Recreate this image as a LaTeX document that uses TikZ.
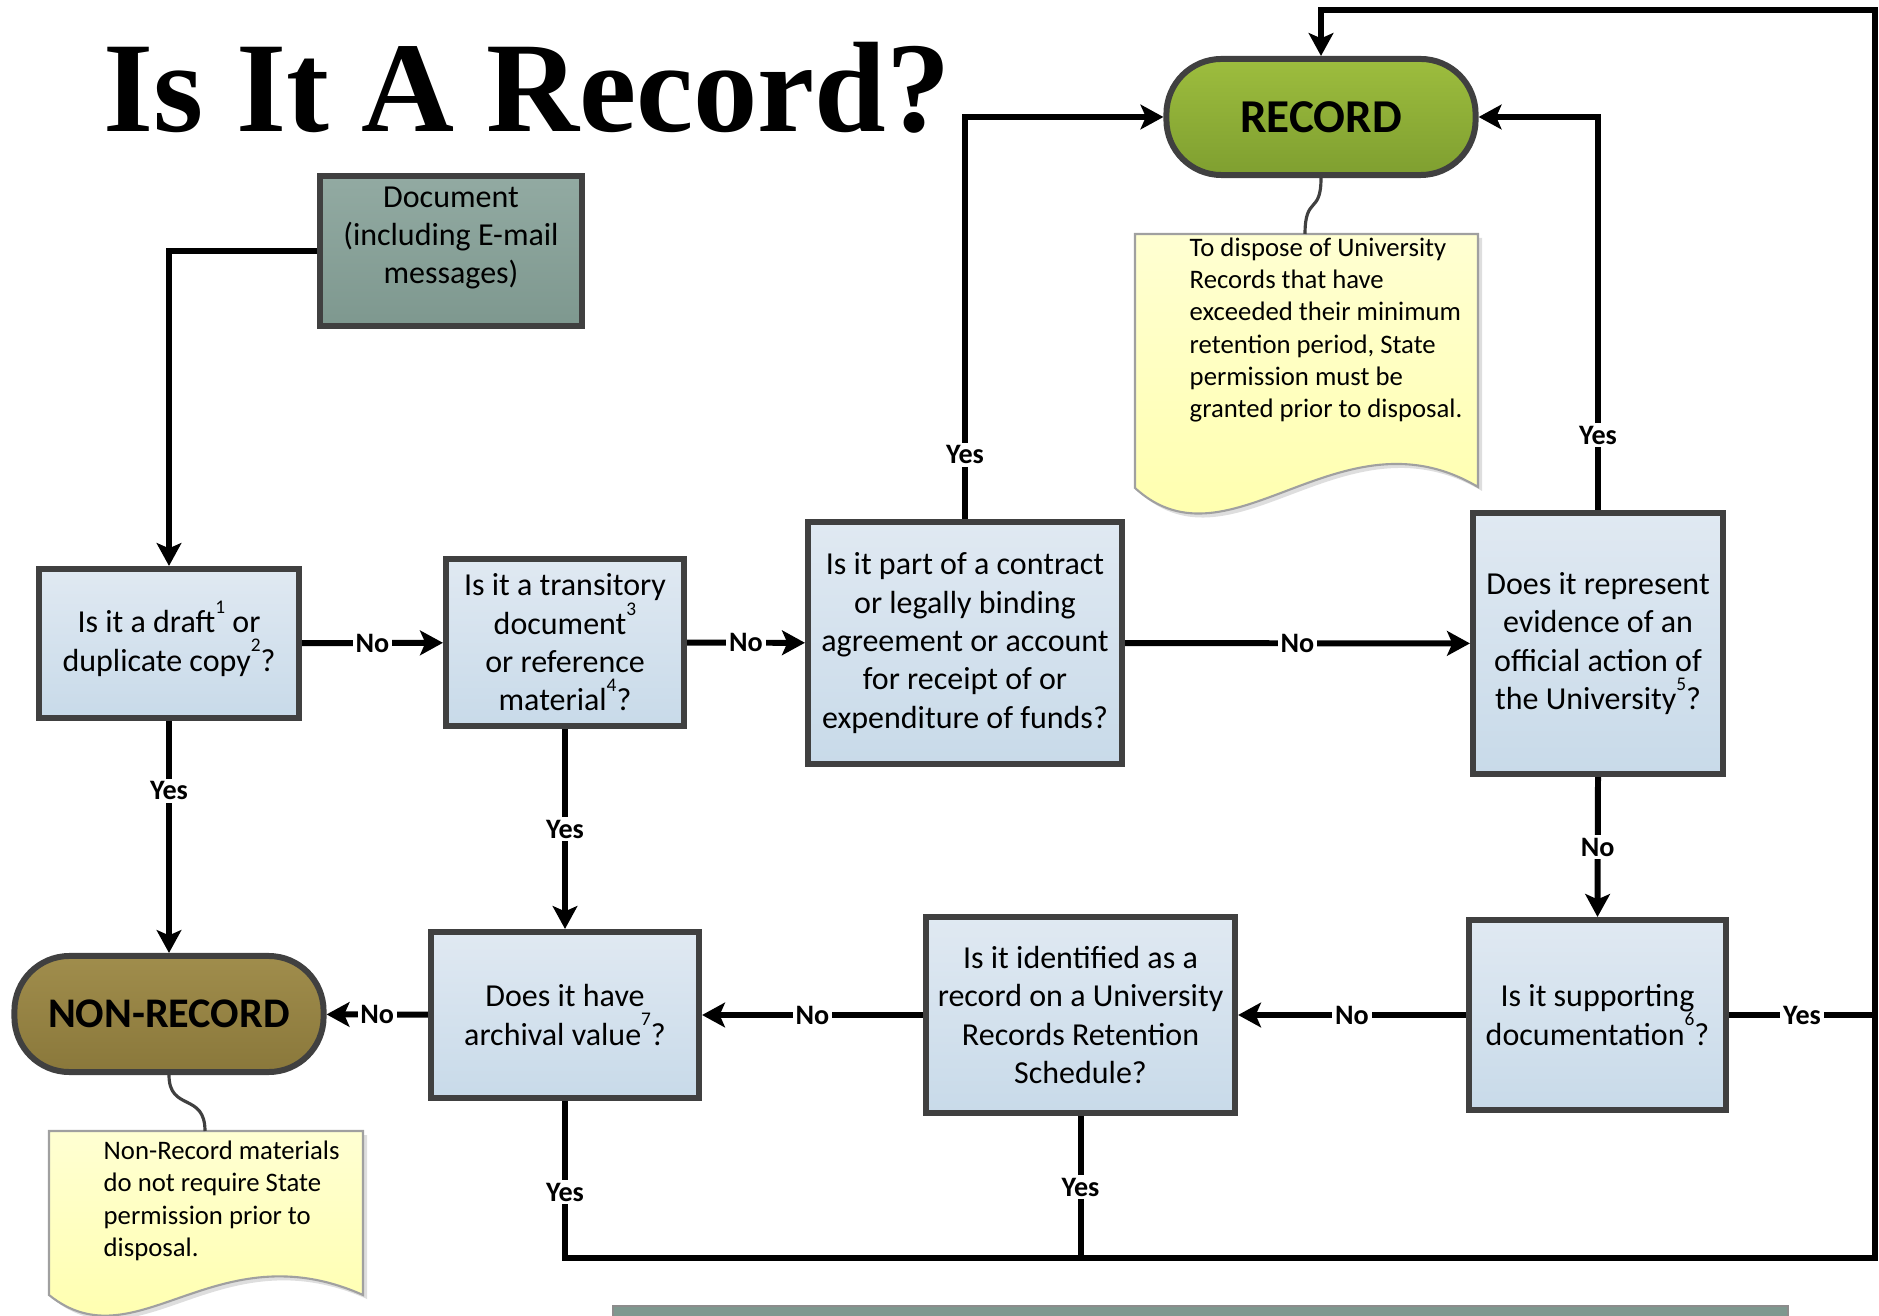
\documentclass[tikz,border=0pt]{standalone}
\usepackage{fontspec}
\setmainfont{Carlito}
\newfontfamily\titlefont{Liberation Serif}
\usetikzlibrary{arrows.meta,positioning}

\definecolor{boxline}{HTML}{404040}
\definecolor{qtop}{HTML}{E0E9F2}
\definecolor{qbot}{HTML}{C8DAE9}
\definecolor{doctop}{HTML}{92AAA2}
\definecolor{docbot}{HTML}{7E988F}
\definecolor{rectop}{HTML}{9DBD3E}
\definecolor{recbot}{HTML}{7F9F30}
\definecolor{nontop}{HTML}{A08D4C}
\definecolor{nonbot}{HTML}{8A783B}
\definecolor{notetop}{HTML}{FFFFD2}
\definecolor{notebot}{HTML}{FFFFA8}
\definecolor{notegray}{HTML}{A0A0A0}

\newcommand\fnum[1]{\smash{\raisebox{0.6em}{\fontsize{5.5}{6}\selectfont #1}}}

\tikzset{
  conn/.style={line width=1.7pt, draw=black},
  arr/.style={-{Stealth[length=6.5pt,width=7pt,inset=1.5pt]}},
  qbox/.style={draw=boxline, line width=1.7pt, top color=qtop, bottom color=qbot,
    align=center, inner sep=0pt, font=\fontsize{9.1}{10.9}\selectfont},
  termbox/.style={draw=boxline, line width=1.7pt, rounded corners=0.55cm, inner sep=0pt,
    minimum width=3.09cm, minimum height=1.16cm, font=\bfseries},
  lbl/.style={fill=white, inner sep=0.8pt, font=\fontsize{8}{9.6}\selectfont\bfseries},
  notetxt/.style={align=left, inner sep=0pt, anchor=west, font=\fontsize{7.6}{9.2}\selectfont},
  papernote/.style={draw=notegray, line width=0.6pt, top color=notetop, bottom color=notebot},
  notedrop/.style={fill=black!13, draw=none},
  tether/.style={draw=boxline, line width=0.9pt}
}

\begin{document}
\begin{tikzpicture}[x=0.01cm,y=-0.01cm]
\useasboundingbox (0,0) rectangle (1879,1316);

\node[anchor=base west, inner sep=0pt, font=\titlefont\bfseries\fontsize{36.6}{40}\selectfont] (title) at (103,132) {Is It A Record?};

\node[draw=boxline, line width=1.7pt, top color=doctop, bottom color=docbot, inner sep=0pt,
  minimum width=2.62cm, minimum height=1.49cm] (doc) at (451,251) {};
\node[align=center, inner sep=0pt, font=\fontsize{9.1}{10.9}\selectfont] (doctext) at (451,238) {Document\\(including E-mail\\messages)};

\node[termbox, top color=rectop, bottom color=recbot, font=\fontsize{13.4}{16}\selectfont\bfseries] (rec) at (1321,117) {RECORD};
\node[termbox, top color=nontop, bottom color=nonbot, font=\fontsize{12}{14}\selectfont\bfseries] (nonrec) at (169,1014) {NON-RECORD};

\node[qbox, minimum width=2.6cm, minimum height=1.49cm] (draft) at (169,643.5) {Is it a draft\fnum{1} or\\duplicate copy\fnum{2}?};
\node[qbox, minimum width=2.38cm, minimum height=1.67cm] (trans) at (565,642.5) {Is it a transitory\\document\fnum{3}\\or reference\\material\fnum{4}?};
\node[qbox, minimum width=3.14cm, minimum height=2.42cm] (contract) at (965,643) {Is it part of a contract\\or legally binding\\agreement or account\\for receipt of or\\expenditure of funds?};
\node[qbox, minimum width=2.5cm, minimum height=2.61cm] (evidence) at (1598,643.5) {Does it represent\\evidence of an\\official action of\\the University\fnum{5}?};
\node[qbox, minimum width=2.68cm, minimum height=1.66cm] (arch) at (565,1015) {Does it have\\archival value\fnum{7}?};
\node[qbox, minimum width=3.09cm, minimum height=1.96cm] (ident) at (1080.5,1015) {Is it identified as a\\record on a University\\Records Retention\\Schedule?};
\node[qbox, minimum width=2.57cm, minimum height=1.9cm] (supp) at (1597.5,1015) {Is it supporting\\documentation\fnum{6}?};

% notes
\fill[notedrop] (1139,238) -- (1482,238) -- (1482,491) .. controls (1344,409) and (1234,579) .. (1139,492) -- cycle;
\draw[papernote] (1135,234) -- (1478,234) -- (1478,487) .. controls (1340,405) and (1230,575) .. (1135,488) -- cycle;
\node[notetxt] (recnote) at (1189,330) {To dispose of University\\Records that have\\exceeded their minimum\\retention period, State\\permission must be\\granted prior to disposal.};
\coordinate (recpin) at (1305,234);
\draw[tether] (rec.south) .. controls (1321,215) and (1305,195) .. (recpin);

\fill[notedrop] (53,1135) -- (367,1135) -- (367,1299) .. controls (219,1233) and (140,1369) .. (53,1299) -- cycle;
\draw[papernote] (49,1131) -- (363,1131) -- (363,1295) .. controls (215,1229) and (136,1365) .. (49,1295) -- cycle;
\node[notetxt] (nonnote) at (103,1201) {Non-Record materials\\do not require State\\permission prior to\\disposal.};
\coordinate (nonpin) at (205,1131);
\draw[tether] (nonrec.south) .. controls (169,1112) and (205,1092) .. (nonpin);

\draw[draw=black!45, fill=docbot] (613,1306) rectangle (1788,1340);

% connectors
\coordinate (topR) at (1875,10);
\coordinate (botR) at (1875,1258);
\draw[conn,arr] (doc.west) -| (draft.north);
\draw[conn,arr] (draft) -- node[lbl]{No} (trans);
\draw[conn,arr] (trans) -- node[lbl]{No} (contract);
\draw[conn,arr] (contract) -- node[lbl]{No} (evidence);
\draw[conn,arr] (contract.north) -- node[lbl,pos=0.16]{Yes} (contract.north |- rec.west) -- (rec.west);
\draw[conn,arr] (evidence.north) -- node[lbl,pos=0.19]{Yes} (evidence.north |- rec.east) -- (rec.east);
\draw[conn,arr] (draft.south) -- node[lbl,pos=0.3]{Yes} (draft.south |- nonrec.north);
\draw[conn,arr] (trans.south) -- node[lbl]{Yes} (arch.north);
\draw[conn,arr] (evidence.south) -- node[lbl]{No} (supp.north);
\draw[conn,arr] (supp) -- node[lbl]{No} (ident);
\draw[conn,arr] (ident) -- node[lbl]{No} (arch);
\draw[conn,arr] (arch) -- node[lbl]{No} (nonrec);
\draw[conn,arr] (supp.east) -- node[lbl]{Yes} (supp.east -| topR) -- (topR) -| (rec.north);
\draw[conn] (arch.south) -- node[lbl,pos=0.58]{Yes} (arch.south |- botR) -- (botR) -- (supp.east -| botR);
\draw[conn] (ident.south) -- node[lbl]{Yes} (ident.south |- botR);
\end{tikzpicture}
\end{document}
